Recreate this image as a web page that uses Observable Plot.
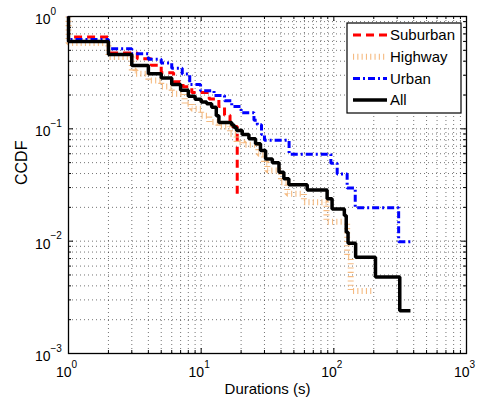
<!DOCTYPE html>
<html><head><meta charset="utf-8">
<script src="https://cdn.jsdelivr.net/npm/d3@7"></script>
<script src="https://cdn.jsdelivr.net/npm/@observablehq/plot@0.6"></script>
<style>
html,body{margin:0;padding:0;background:#fff;}
#chart svg{display:block;}
</style>
</head><body><div id="chart"></div>
<script>
// ---- data ----
const seriesNames = ["Suburban", "Highway", "Urban", "All"];

const suburbanX = [1, 1, 2, 3.3, 4.2, 5, 6.2, 7.3, 8.5, 11.5, 13.6, 15, 16.5, 18.7];
const suburbanY = [1, 0.658, 0.474, 0.421, 0.368, 0.316, 0.263, 0.237, 0.211, 0.184, 0.158, 0.132, 0.105, 0.0263];

const highwayX = [1, 1, 2, 3, 3.2, 4, 5, 6, 7.5, 8.5, 10, 11.5, 13.5, 16.5, 18.5, 21, 27, 29.7, 31.5, 40, 44.6, 59.5, 88, 126, 134, 200];
const highwayY = [1, 0.58, 0.435, 0.33, 0.31, 0.27, 0.238, 0.205, 0.167, 0.151, 0.131, 0.115, 0.105, 0.09, 0.076, 0.072, 0.06, 0.05, 0.0425, 0.0335, 0.0264, 0.0222, 0.0149, 0.0072, 0.0036, 0.0036];

const urbanX = [1, 1, 2, 3, 4, 5, 6, 7.2, 8.2, 9.9, 12.5, 15, 17, 20, 25, 26.5, 28.5, 30, 46, 95, 106, 126, 145, 308, 378];
const urbanY = [1, 0.624, 0.515, 0.465, 0.416, 0.386, 0.347, 0.307, 0.248, 0.218, 0.198, 0.178, 0.158, 0.139, 0.119, 0.109, 0.089, 0.079, 0.0594, 0.0495, 0.0396, 0.0297, 0.0198, 0.0099, 0.0099];

const allX = [1, 1, 2, 3, 4, 5, 6, 7, 8, 9, 10, 11, 12, 13, 13.6, 17, 17.7, 18.5, 20.4, 22.9, 25.7, 28, 30.6, 34.4, 38.6, 42, 45.8, 63, 89, 97, 120, 124, 128, 146, 206, 314, 378];
const allY = [1, 0.598, 0.459, 0.367, 0.309, 0.284, 0.248, 0.221, 0.195, 0.183, 0.173, 0.167, 0.156, 0.131, 0.114, 0.108, 0.103, 0.0966, 0.089, 0.0814, 0.0735, 0.064, 0.054, 0.050, 0.041, 0.036, 0.0318, 0.0286, 0.0238, 0.0193, 0.0169, 0.0120, 0.0096, 0.0072, 0.0048, 0.0024, 0.0024];

const xTicks = [1, 10, 100, 1000];
const xTickExponents = ["0", "1", "2", "3"];
const yTicks = [1, 0.1, 0.01, 0.001];
const yTickExponents = ["0", "\u22121", "\u22122", "\u22123"];
const xLabel = "Durations (s)";
const yLabel = "CCDF";

// ---- styles ----
const W = 482, H = 405;
const M = {top: 16, right: 16, bottom: 52, left: 68};
const PW = W - M.left - M.right, PH = H - M.top - M.bottom;
const FONT = "'Liberation Sans', Arial, Helvetica, sans-serif";
const styles = {
  Suburban: {stroke: "#ff0000", strokeWidth: 3, strokeDasharray: "8,5"},
  Highway: {stroke: "#f5bb82", strokeWidth: 6, strokeDasharray: "1.1,3.2"},
  Urban: {stroke: "#0000ff", strokeWidth: 3, strokeDasharray: "7,3,2,3"},
  All: {stroke: "#000000", strokeWidth: 3.5, strokeDasharray: null}
};

// ---- table ----
const seriesX = [suburbanX, highwayX, urbanX, allX];
const seriesY = [suburbanY, highwayY, urbanY, allY];
const rows = seriesNames.flatMap((name, i) => seriesX[i].map((x, j) => ({series: name, x, y: seriesY[i][j]})));

// grid positions (log minor + major)
const decadesX = [1, 10, 100];
const gridX = decadesX.flatMap(d => d3.range(1, 10).map(k => k * d)).concat([1000]);
const minorX = gridX.filter(v => !xTicks.includes(v));
const decadesY = [0.001, 0.01, 0.1];
const gridY = decadesY.flatMap(d => d3.range(1, 10).map(k => k * d)).concat([1]);
const minorY = gridY.filter(v => !yTicks.some(t => Math.abs(t - v) < 1e-12));

const gridStyle = {stroke: "#000", strokeOpacity: 0.55, strokeDasharray: "1,3", strokeWidth: 1};
const tickStyle = {stroke: "#000", strokeWidth: 1};

const lineMarks = seriesNames.map(name => Plot.line(rows.filter(r => r.series === name), {
  x: "x", y: "y", curve: "step-after",
  stroke: styles[name].stroke, strokeWidth: styles[name].strokeWidth,
  strokeDasharray: styles[name].strokeDasharray, strokeLinecap: "butt", strokeLinejoin: "miter"
}));

const svg = Plot.plot({
  width: W, height: H,
  marginTop: M.top, marginRight: M.right, marginBottom: M.bottom, marginLeft: M.left,
  style: {fontFamily: FONT, background: "#fff", overflow: "visible"},
  x: {type: "log", domain: [1, 1000], axis: null},
  y: {type: "log", domain: [0.001, 1], axis: null},
  marks: [
    Plot.ruleX(gridX.filter(v => v > 1 && v < 1000), gridStyle),
    Plot.ruleY(gridY.filter(v => v > 0.001 && v < 1), gridStyle),
    // inward ticks
    Plot.ruleX(xTicks, {...tickStyle, insetTop: PH - 5}),
    Plot.ruleX(xTicks, {...tickStyle, insetBottom: PH - 5}),
    Plot.ruleX(minorX, {...tickStyle, insetTop: PH - 3}),
    Plot.ruleX(minorX, {...tickStyle, insetBottom: PH - 3}),
    Plot.ruleY(yTicks, {...tickStyle, insetRight: PW - 5}),
    Plot.ruleY(yTicks, {...tickStyle, insetLeft: PW - 5}),
    Plot.ruleY(minorY, {...tickStyle, insetRight: PW - 3}),
    Plot.ruleY(minorY, {...tickStyle, insetLeft: PW - 3}),
    ...lineMarks,
    Plot.frame({stroke: "#000", strokeWidth: 1.3}),
    // x tick labels
    Plot.text(xTicks, {x: d => d, frameAnchor: "bottom", text: () => "10", textAnchor: "end", lineAnchor: "top", dx: 3, dy: 14, fontSize: 14, fill: "#000"}),
    Plot.text(xTicks, {x: d => d, frameAnchor: "bottom", text: (d, i) => xTickExponents[i], textAnchor: "start", lineAnchor: "top", dx: 3, dy: 7, fontSize: 10, fill: "#000"}),
    // y tick labels
    Plot.text(yTicks, {y: d => d, frameAnchor: "left", text: () => "10", textAnchor: "end", lineAnchor: "middle", dx: -18, dy: 3, fontSize: 14, fill: "#000"}),
    Plot.text(yTicks, {y: d => d, frameAnchor: "left", text: (d, i) => yTickExponents[i], textAnchor: "start", lineAnchor: "middle", dx: -18, dy: -5, fontSize: 10, fill: "#000"}),
    // axis titles
    Plot.text([xLabel], {frameAnchor: "bottom", text: d => d, lineAnchor: "top", dy: 30, fontSize: 15, fill: "#000"}),
    Plot.text([yLabel], {frameAnchor: "left", text: d => d, rotate: -90, dx: -47, fontSize: 16, fill: "#000"})
  ]
});

// ---- legend (inside plot, upper right) ----
const g = d3.select(svg).append("g")
  .style("font-family", FONT).style("font-size", "15px").attr("text-anchor", "start");
const lx = 347, ly = 23, lw = 114, lh = 90, rowH = 21.7;
g.append("rect").attr("x", lx).attr("y", ly).attr("width", lw).attr("height", lh)
  .attr("fill", "#fff").attr("stroke", "#000").attr("stroke-width", 1.2);
seriesNames.forEach((name, i) => {
  const cy = ly + 12 + i * rowH;
  const s = styles[name];
  g.append("line").attr("x1", lx + 6).attr("x2", lx + 40).attr("y1", cy).attr("y2", cy)
    .attr("stroke", s.stroke).attr("stroke-width", s.strokeWidth)
    .attr("stroke-dasharray", s.strokeDasharray);
  g.append("text").attr("x", lx + 43).attr("y", cy).attr("dy", "0.35em")
    .attr("text-anchor", "start").attr("fill", "#000").text(name);
});

document.getElementById("chart").appendChild(svg);
</script>
</body></html>
